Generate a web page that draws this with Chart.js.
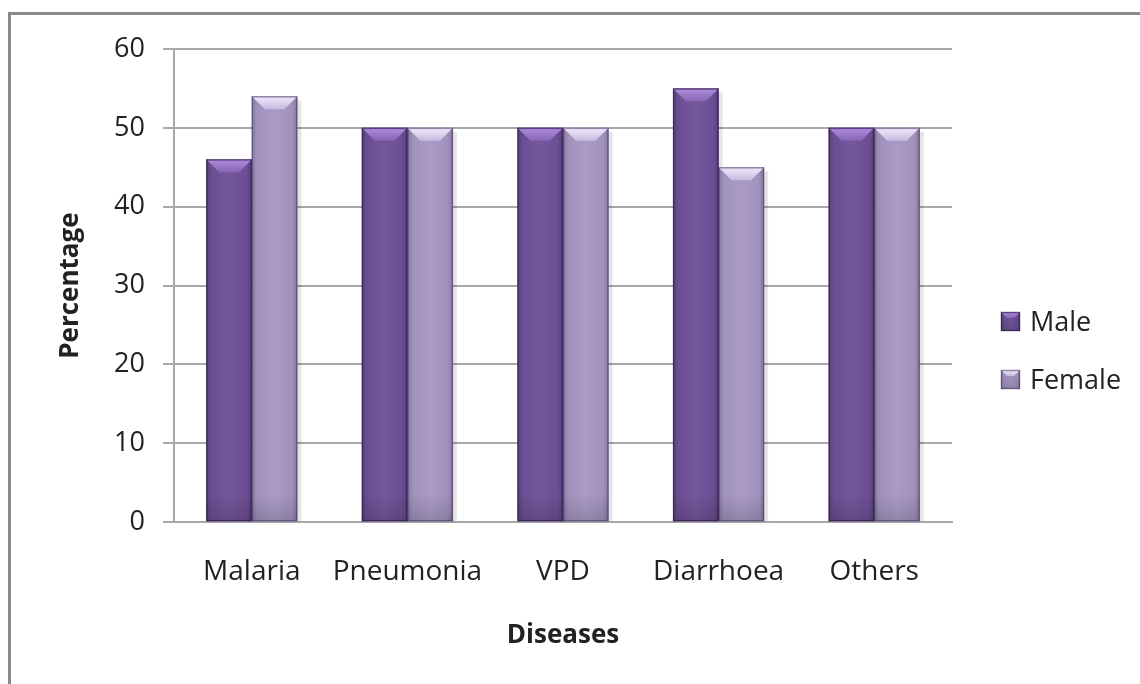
<!DOCTYPE html>
<html>
<head>
<meta charset="utf-8">
<script src="https://cdn.jsdelivr.net/npm/chart.js@4"></script>
<style>
  html, body { margin: 0; padding: 0; background: #fff; }
  #wrap { position: relative; width: 1140px; height: 684px; overflow: hidden; }
  #frame {
    position: absolute; left: 8px; top: 12px; right: -10px; bottom: -10px;
    border-top: 3px solid #8a8a8a; border-left: 3px solid #8a8a8a;
    pointer-events: none;
  }
  canvas { position: absolute; left: 0; top: 0; }
</style>
</head>
<body>
<div id="wrap">
  <canvas id="diseaseChart" width="1140" height="684"></canvas>
  <div id="frame"></div>
</div>
<script>
const categories = ['Malaria', 'Pneumonia', 'VPD', 'Diarrhoea', 'Others'];
const maleValues = [46, 50, 50, 55, 50];
const femaleValues = [54, 50, 50, 45, 50];
const seriesNames = ['Male', 'Female'];

const fontFamily = '"Open Sans", "DejaVu Sans", sans-serif';
const textColor = '#222';
const gridColor = '#a8a8a8';

// body colour, top bevel colours and edge tint for each series
const barStyles = [
  { fill: '#6f5198', bevelTop: '#b08ee0', bevelBottom: '#8565b4', edge: 'rgba(45,25,75,0.65)' },
  { fill: '#a797c4', bevelTop: '#f1eafc', bevelBottom: '#c7b9df', edge: 'rgba(70,55,100,0.55)' }
];

function drawBevelBox(ctx, left, top, right, bottom, style, depth) {
  const w = right - left;
  // side shading
  let g = ctx.createLinearGradient(left, 0, right, 0);
  g.addColorStop(0, 'rgba(0,0,0,0.20)');
  g.addColorStop(0.12, 'rgba(0,0,0,0.03)');
  g.addColorStop(0.5, 'rgba(255,255,255,0.04)');
  g.addColorStop(0.88, 'rgba(0,0,0,0.03)');
  g.addColorStop(1, 'rgba(0,0,0,0.22)');
  ctx.fillStyle = g;
  ctx.fillRect(left, top, w, bottom - top);
  // darker foot
  const foot = Math.min(28, bottom - top);
  g = ctx.createLinearGradient(0, bottom - foot, 0, bottom);
  g.addColorStop(0, 'rgba(0,0,0,0)');
  g.addColorStop(1, 'rgba(0,0,0,0.14)');
  ctx.fillStyle = g;
  ctx.fillRect(left, bottom - foot, w, foot);
  // top bevel
  const d = Math.min(depth, w / 3, bottom - top);
  g = ctx.createLinearGradient(0, top, 0, top + d);
  g.addColorStop(0, style.bevelTop);
  g.addColorStop(1, style.bevelBottom);
  ctx.fillStyle = g;
  ctx.beginPath();
  ctx.moveTo(left, top);
  ctx.lineTo(right, top);
  ctx.lineTo(right - d, top + d);
  ctx.lineTo(left + d, top + d);
  ctx.closePath();
  ctx.fill();
  // outline
  ctx.strokeStyle = style.edge;
  ctx.lineWidth = 1.5;
  ctx.strokeRect(left + 0.5, top + 0.5, w - 1, bottom - top - 1);
}

const bevelBars = {
  id: 'bevelBars',
  beforeDatasetsDraw(chart) {
    const ctx = chart.ctx;
    ctx.save();
    chart.data.datasets.forEach((ds, i) => {
      chart.getDatasetMeta(i).data.forEach(el => {
        const { x, y, base, width } = el.getProps(['x', 'y', 'base', 'width'], true);
        ctx.fillStyle = 'rgba(0,0,0,0.10)';
        ctx.fillRect(x + width / 2, y + 4, 4, base - y - 4);
      });
    });
    ctx.restore();
  },
  afterDatasetsDraw(chart) {
    const ctx = chart.ctx;
    ctx.save();
    chart.data.datasets.forEach((ds, i) => {
      chart.getDatasetMeta(i).data.forEach(el => {
        const { x, y, base, width } = el.getProps(['x', 'y', 'base', 'width'], true);
        drawBevelBox(ctx, x - width / 2, y, x + width / 2, base, barStyles[i], 13);
      });
    });
    ctx.restore();
  },
  afterDraw(chart) {
    // legend on the right, beside the plot
    const ctx = chart.ctx;
    ctx.save();
    ctx.font = '27px ' + fontFamily;
    ctx.textBaseline = 'middle';
    ctx.textAlign = 'left';
    const rows = [322, 380];
    chart.data.datasets.forEach((ds, i) => {
      const cy = rows[i];
      const bx = 1001, by = cy - 10, s = 19;
      ctx.fillStyle = barStyles[i].fill;
      ctx.fillRect(bx, by, s, s);
      drawBevelBox(ctx, bx, by, bx + s, by + s, barStyles[i], 6);
      ctx.fillStyle = textColor;
      ctx.fillText(ds.label, 1030, cy + 1);
    });
    ctx.restore();
  }
};

new Chart(document.getElementById('diseaseChart'), {
  type: 'bar',
  data: {
    labels: categories,
    datasets: [
      { label: seriesNames[0], data: maleValues, backgroundColor: barStyles[0].fill },
      { label: seriesNames[1], data: femaleValues, backgroundColor: barStyles[1].fill }
    ]
  },
  options: {
    responsive: false,
    animation: false,
    layout: { padding: { left: 10, top: 49, right: 188, bottom: 33 } },
    datasets: {
      bar: { categoryPercentage: 0.585, barPercentage: 1.0 }
    },
    plugins: {
      legend: { display: false },
      tooltip: { enabled: false }
    },
    scales: {
      x: {
        // invisible tick marks push the category labels down
        grid: { display: true, drawOnChartArea: false, color: 'rgba(0,0,0,0)', drawTicks: true, tickLength: 33 },
        border: { display: true, color: gridColor, width: 2 },
        ticks: {
          color: textColor, padding: 0, maxRotation: 0, autoSkip: false,
          font: { family: fontFamily, size: 28 }
        },
        title: {
          display: true, text: 'Diseases', color: textColor,
          font: { family: fontFamily, size: 26, weight: 'bold' },
          padding: { top: 31, bottom: 0 }
        }
      },
      y: {
        min: 0, max: 60,
        grid: { color: gridColor, lineWidth: 2, tickLength: 11 },
        border: { display: true, color: gridColor, width: 2 },
        ticks: { stepSize: 10, color: textColor, padding: 18, font: { family: fontFamily, size: 27 } },
        title: {
          display: true, text: 'Percentage', color: textColor,
          font: { family: fontFamily, size: 26, weight: 'bold' },
          padding: { top: 45, bottom: 28 }
        },
        // fixed axis width so the plot starts where the frame expects it
        afterFit(scale) { scale.width = 164; }
      }
    }
  },
  plugins: [bevelBars]
});
</script>
</body>
</html>
